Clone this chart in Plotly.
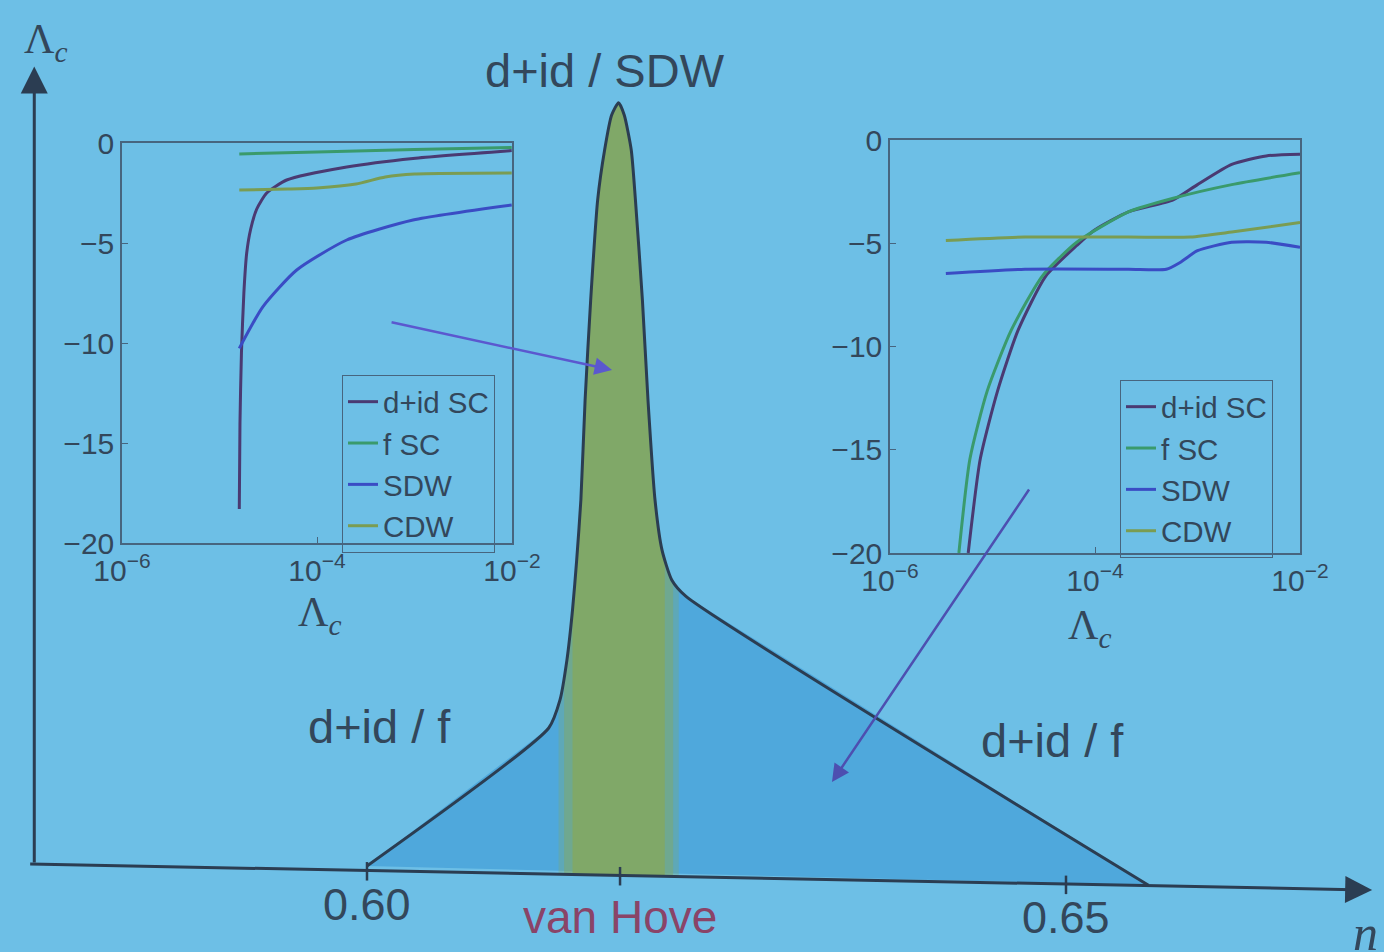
import numpy as np
import plotly.graph_objects as go

# ---------------- colours ----------------
BG = "#6dbfe6"
REGION = "#4fa8dc"
GREEN = "#80a868"
EDGE = "#2b3d52"
TXT = "#33475b"
C_DID = "#4a3a72"
C_FSC = "#3a9a6c"
C_SDW = "#3a4cc4"
C_CDW = "#7a9c52"

# ---------------- main phase diagram (n, Lambda_c in arbitrary units) ----------------
boundary_n = [0.6000, 0.6130, 0.6138, 0.6143, 0.6147, 0.6150, 0.6153, 0.6156, 0.6160,
              0.6165, 0.6170, 0.6175, 0.6180, 0.6184, 0.6189, 0.6192, 0.6197, 0.6201,
              0.6206, 0.6211, 0.6218, 0.6228, 0.6559]
boundary_L = [0.013, 0.192, 0.228, 0.280, 0.345, 0.410, 0.488, 0.617, 0.747,
              0.877, 0.942, 0.987, 1.003, 0.987, 0.942, 0.877, 0.747, 0.617,
              0.488, 0.423, 0.384, 0.363, -0.012]
axis_n = [0.5758, 0.6719]          # ends of the (slightly tilted) n axis
axis_L = [0.0156, -0.0182]
lam_axis_n = 0.5762
lam_axis_top = 1.050
van_hove = 0.6181
band_edges = [(0.6137, 0.6223, 0.3), (0.6141, 0.6219, 0.5), (0.6147, 0.6213, 1.0)]
n_ticks = [0.60, van_hove, 0.65]
n_ticklabels = ["0.60", "van Hove", "0.65"]

# ---------------- insets: log10(Lambda_c) vs flow value ----------------
series_names = ["d+id SC", "f SC", "SDW", "CDW"]
series_colors = [C_DID, C_FSC, C_SDW, C_CDW]

# left inset (van Hove filling)
L_did_x = [-4.797, -4.790, -4.775, -4.750, -4.721, -4.680, -4.618, -4.516, -4.311, -3.695, -3.015, -2.003]
L_did_y = [-18.3, -14.0, -10.5, -7.5, -5.5, -4.3, -3.3, -2.5, -1.85, -1.2, -0.77, -0.38]
L_fsc_x = [-4.797, -4.0, -3.0, -2.003]
L_fsc_y = [-0.55, -0.45, -0.32, -0.22]
L_sdw_x = [-4.797, -4.554, -4.208, -3.695, -3.015, -2.003]
L_sdw_y = [-10.27, -8.18, -6.35, -4.85, -3.85, -3.1]
L_cdw_x = [-4.797, -4.3, -4.0, -3.6, -3.3, -3.0, -2.003]
L_cdw_y = [-2.35, -2.3, -2.25, -2.05, -1.7, -1.55, -1.5]

# right inset (away from van Hove)
R_did_x = [-5.237, -5.119, -4.951, -4.75, -4.48, -4.178, -4.01, -3.674, -3.237, -3.0, -2.666, -2.33, -2.0]
R_did_y = [-20.0, -15.44, -12.16, -9.21, -6.59, -5.11, -4.38, -3.48, -2.90, -2.16, -1.18, -0.77, -0.69]
R_fsc_x = [-5.328, -5.22, -5.052, -4.817, -4.514, -4.178, -3.674, -3.237, -2.666, -2.0]
R_fsc_y = [-20.0, -15.44, -12.16, -9.21, -6.59, -4.95, -3.48, -2.82, -2.16, -1.59]
R_sdw_x = [-5.455, -4.682, -3.674, -3.304, -3.17, -3.0, -2.666, -2.33, -2.0]
R_sdw_y = [-6.46, -6.26, -6.26, -6.26, -5.93, -5.36, -4.95, -4.95, -5.2]
R_cdw_x = [-5.455, -4.682, -3.674, -3.07, -2.666, -2.0]
R_cdw_y = [-4.87, -4.70, -4.70, -4.70, -4.46, -4.0]

inset_ticks_x = [1e-6, 1e-4, 1e-2]
inset_ticktext_x = ["10<sup>\u22126</sup>", "10<sup>\u22124</sup>", "10<sup>\u22122</sup>"]
inset_ticks_y = [0, -5, -10, -15, -20]

fig = go.Figure()

# blue region under the phase boundary
fig.add_trace(go.Scatter(x=boundary_n, y=boundary_L, mode="lines", fill="toself",
                         fillcolor=REGION, line=dict(width=0), showlegend=False,
                         hoverinfo="skip", xaxis="x", yaxis="y"))

# green van Hove band, clipped to the region
for a, b, op in band_edges:
    inner = [n for n in boundary_n if a < n < b]
    ns = [a] + inner + [b]
    top = list(np.interp(ns, boundary_n, boundary_L))
    base = list(np.interp([a, b], axis_n, axis_L))
    fig.add_trace(go.Scatter(x=[a] + ns + [b], y=[base[0]] + top + [base[1]],
                             mode="lines", fill="toself", fillcolor=GREEN, opacity=op,
                             line=dict(width=0), showlegend=False, hoverinfo="skip",
                             xaxis="x", yaxis="y"))

# phase boundary
fig.add_trace(go.Scatter(x=boundary_n, y=boundary_L, mode="lines",
                         line=dict(color=EDGE, width=3, shape="spline", smoothing=0.6),
                         showlegend=False, hoverinfo="skip", xaxis="x", yaxis="y"))

# inset traces
left_sets = [(L_did_x, L_did_y), (L_fsc_x, L_fsc_y), (L_sdw_x, L_sdw_y), (L_cdw_x, L_cdw_y)]
right_sets = [(R_did_x, R_did_y), (R_fsc_x, R_fsc_y), (R_sdw_x, R_sdw_y), (R_cdw_x, R_cdw_y)]
for (xs, ys), name, col in zip(left_sets, series_names, series_colors):
    fig.add_trace(go.Scatter(x=[10 ** v for v in xs], y=ys, mode="lines", name=name,
                             line=dict(color=col, width=3, shape="spline", smoothing=0.6),
                             xaxis="x2", yaxis="y2", legend="legend"))
for (xs, ys), name, col in zip(right_sets, series_names, series_colors):
    fig.add_trace(go.Scatter(x=[10 ** v for v in xs], y=ys, mode="lines", name=name,
                             line=dict(color=col, width=3, shape="spline", smoothing=0.6),
                             xaxis="x3", yaxis="y3", legend="legend2"))

k = 0.05 / 699.0
xr = [0.60 - 367 * k, 0.60 + 1017 * k]
yr = [-76 / 771.0, 876 / 771.0]

inset_font = dict(family="Liberation Sans, Arial", size=30, color=TXT)
inset_ax = dict(showgrid=False, zeroline=False, showline=True, mirror=True,
                linecolor="#47657f", linewidth=1.5, ticks="inside", ticklen=6,
                tickcolor="#47657f", tickfont=inset_font)
leg_font = dict(family="Liberation Sans, Arial", size=29.5, color=TXT)

fig.update_layout(
    width=1384, height=952, autosize=False,
    margin=dict(l=0, r=0, t=0, b=0, pad=0, autoexpand=False),
    paper_bgcolor=BG, plot_bgcolor="rgba(0,0,0,0)",
    xaxis=dict(domain=[0, 1], range=xr, visible=False, fixedrange=True),
    yaxis=dict(domain=[0, 1], range=yr, visible=False, fixedrange=True),
    xaxis2=dict(domain=[122 / 1384, 512 / 1384], anchor="y2", type="log", range=[-6, -2],
                tickvals=inset_ticks_x, ticktext=inset_ticktext_x, **inset_ax),
    yaxis2=dict(domain=[1 - 543 / 952, 1 - 143 / 952], anchor="x2", range=[-20, 0],
                tickvals=inset_ticks_y, **inset_ax),
    xaxis3=dict(domain=[890 / 1384, 1300 / 1384], anchor="y3", type="log", range=[-6, -2],
                tickvals=inset_ticks_x, ticktext=inset_ticktext_x, **inset_ax),
    yaxis3=dict(domain=[1 - 553 / 952, 1 - 140 / 952], anchor="x3", range=[-20, 0],
                tickvals=inset_ticks_y, **inset_ax),
    legend=dict(x=342 / 1384, y=1 - 375 / 952, xanchor="left", yanchor="top",
                bgcolor="rgba(0,0,0,0)", bordercolor="#47657f", borderwidth=1,
                font=leg_font, tracegroupgap=0),
    legend2=dict(x=1120 / 1384, y=1 - 380 / 952, xanchor="left", yanchor="top",
                 bgcolor="rgba(0,0,0,0)", bordercolor="#47657f", borderwidth=1,
                 font=leg_font, tracegroupgap=0),
    showlegend=True,
)

ann = []
# main axes as arrows
ann.append(dict(x=axis_n[1], y=axis_L[1], ax=axis_n[0], ay=axis_L[0], xref="x", yref="y",
                axref="x", ayref="y", text="", showarrow=True, arrowhead=2, arrowsize=1.8,
                arrowwidth=3, arrowcolor=EDGE))
ann.append(dict(x=lam_axis_n, y=lam_axis_top, ax=lam_axis_n, ay=axis_L[0], xref="x", yref="y",
                axref="x", ayref="y", text="", showarrow=True, arrowhead=2, arrowsize=1.8,
                arrowwidth=3, arrowcolor=EDGE))
# pointer arrows
ann.append(dict(x=0.61753, y=0.6563, ax=0.60165, ay=0.7186, xref="x", yref="y",
                axref="x", ayref="y", text="", showarrow=True, arrowhead=2, arrowsize=1.4,
                arrowwidth=2.5, arrowcolor="#5b58cf"))
ann.append(dict(x=0.63326, y=0.1219, ax=0.64743, ay=0.5032, xref="x", yref="y",
                axref="x", ayref="y", text="", showarrow=True, arrowhead=2, arrowsize=1.4,
                arrowwidth=2.5, arrowcolor="#4d4fb0"))

big = dict(family="Liberation Sans, Arial", size=47, color=TXT)
ann.append(dict(x=0.61702, y=1.0454, xref="x", yref="y", text="d+id / SDW",
                showarrow=False, font=big))
ann.append(dict(x=0.60086, y=0.1933, xref="x", yref="y", text="d+id / f",
                showarrow=False, font=big))
ann.append(dict(x=0.64900, y=0.1764, xref="x", yref="y", text="d+id / f",
                showarrow=False, font=big))
label_y = [-0.0376, -0.0532, -0.0532]
label_col = [TXT, "#8a4468", TXT]
for n, t, ly, c in zip(n_ticks, n_ticklabels, label_y, label_col):
    ann.append(dict(x=n, y=ly, xref="x", yref="y", text=t, showarrow=False,
                    font=dict(family="Liberation Sans, Arial", size=45 if t != "van Hove" else 46,
                              color=c)))

serif = dict(family="Liberation Serif, DejaVu Serif", size=42, color=TXT)
ann.append(dict(x=0.57705, y=1.0817, xref="x", yref="y", text="\u039b<sub><i>c</i></sub>",
                showarrow=False, font=serif))
ann.append(dict(x=0.67139, y=-0.0740, xref="x", yref="y", text="<i>n</i>",
                showarrow=False, font=dict(family="Liberation Serif, DejaVu Serif", size=50, color=TXT)))
# inset x titles
ann.append(dict(x=296 / 1384, y=1 - 615 / 952, xref="paper", yref="paper",
                text="\u039b<sub><i>c</i></sub>", showarrow=False, font=serif))
ann.append(dict(x=1114 / 1384, y=1 - 628 / 952, xref="paper", yref="paper",
                text="\u039b<sub><i>c</i></sub>", showarrow=False, font=serif))
fig.update_layout(annotations=ann)

# ticks on the n axis
shapes = []
for n in n_ticks:
    b = float(np.interp(n, axis_n, axis_L))
    shapes.append(dict(type="line", xref="x", yref="y", x0=n, x1=n, y0=b - 0.013, y1=b + 0.011,
                       line=dict(color=EDGE, width=2.5)))
fig.update_layout(shapes=shapes)

fig.write_html("out.html")
